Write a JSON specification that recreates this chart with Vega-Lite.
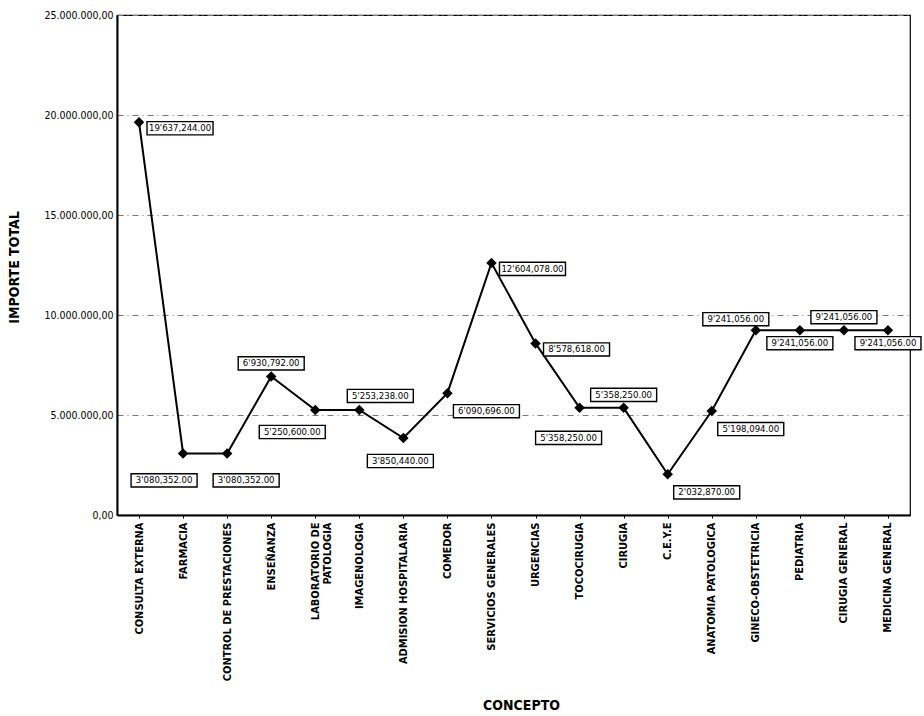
{
  "$schema": "https://vega.github.io/schema/vega-lite/v6.json",
  "autosize": "none",
  "width": 793,
  "height": 500,
  "padding": {"left": 117, "top": 15, "right": 14, "bottom": 201},
  "background": "white",
  "config": {
    "locale": {"number": {"decimal": ",", "thousands": ".", "grouping": [3], "currency": ["", ""]}},
    "view": {"stroke": "black", "strokeWidth": 1.2},
    "font": "DejaVu Sans Condensed, Liberation Sans, sans-serif"
  },
  "data": {
    "values": [
      {"concepto": "CONSULTA EXTERNA", "importe": 19637244, "etiqueta": "19'637,244.00"},
      {"concepto": "FARMACIA", "importe": 3080352, "etiqueta": "3'080,352.00"},
      {"concepto": "CONTROL DE PRESTACIONES", "importe": 3080352, "etiqueta": "3'080,352.00"},
      {"concepto": "ENSEÑANZA", "importe": 6930792, "etiqueta": "6'930,792.00"},
      {"concepto": "LABORATORIO DE|PATOLOGIA", "importe": 5250600, "etiqueta": "5'250,600.00"},
      {"concepto": "IMAGENOLOGIA", "importe": 5253238, "etiqueta": "5'253,238.00"},
      {"concepto": "ADMISION HOSPITALARIA", "importe": 3850440, "etiqueta": "3'850,440.00"},
      {"concepto": "COMEDOR", "importe": 6090696, "etiqueta": "6'090,696.00"},
      {"concepto": "SERVICIOS GENERALES", "importe": 12604078, "etiqueta": "12'604,078.00"},
      {"concepto": "URGENCIAS", "importe": 8578618, "etiqueta": "8'578,618.00"},
      {"concepto": "TOCOCIRUGIA", "importe": 5358250, "etiqueta": "5'358,250.00"},
      {"concepto": "CIRUGIA", "importe": 5358250, "etiqueta": "5'358,250.00"},
      {"concepto": "C.E.Y.E", "importe": 2032870, "etiqueta": "2'032,870.00"},
      {"concepto": "ANATOMIA PATOLOGICA", "importe": 5198094, "etiqueta": "5'198,094.00"},
      {"concepto": "GINECO-OBSTETRICIA", "importe": 9241056, "etiqueta": "9'241,056.00"},
      {"concepto": "PEDIATRIA", "importe": 9241056, "etiqueta": "9'241,056.00"},
      {"concepto": "CIRUGIA GENERAL", "importe": 9241056, "etiqueta": "9'241,056.00"},
      {"concepto": "MEDICINA GENERAL", "importe": 9241056, "etiqueta": "9'241,056.00"}
    ]
  },
  "encoding": {
    "x": {
      "field": "concepto", "type": "nominal", "sort": null,
      "scale": {"type": "point", "padding": 0.5},
      "axis": {
        "title": "CONCEPTO", "titleFontSize": 14, "titleFontWeight": "bold",
        "titleX": 404, "titleY": 190, "titleBaseline": "middle", "titleAlign": "center", "titleColor": "black",
        "labelAngle": -90, "labelAlign": "right", "labelBaseline": "middle",
        "labelExpr": "split(datum.label, '|')",
        "labelFontSize": 11, "labelFontWeight": "bold", "labelColor": "black",
        "labelPadding": 4, "tickSize": 3, "tickColor": "black", "domainColor": "black", "domainWidth": 2,
        "labelOverlap": false, "labelLineHeight": 12, "labelBound": false
      }
    },
    "y": {
      "field": "importe", "type": "quantitative",
      "scale": {"domain": [0, 25000000], "nice": false},
      "axis": {
        "title": "IMPORTE TOTAL", "titleFontSize": 14, "titleFontWeight": "bold",
        "titleX": -103, "titleY": 252, "titleAngle": -90, "titleAlign": "center", "titleBaseline": "middle", "titleColor": "black",
        "values": [0, 5000000, 10000000, 15000000, 20000000, 25000000],
        "format": ",.2f",
        "labelFontSize": 10.5, "labelColor": "black",
        "labelPadding": 4, "ticks": false, "domainColor": "black", "domainWidth": 2,
        "grid": true, "gridColor": "#777", "gridDash": [6, 4, 1, 4], "gridWidth": 1
      }
    }
  },
  "layer": [
    {"mark": {"type": "line", "color": "black", "strokeWidth": 2}},
    {"mark": {"type": "point", "shape": "diamond", "filled": true, "color": "black", "size": 110, "opacity": 1}},
    {
      "transform": [{"filter": {"field": "concepto", "oneOf": ["CONSULTA EXTERNA", "SERVICIOS GENERALES", "URGENCIAS"]}}],
      "layer": [
        {"mark": {"type": "point", "shape": "M-1,-0.2L1,-0.2L1,0.2L-1,0.2Z", "size": 4356, "filled": true, "fill": "white", "stroke": "black", "strokeWidth": 1.4, "opacity": 1, "xOffset": 41, "yOffset": 6}},
        {"mark": {"type": "text", "fontSize": 9.5, "color": "black", "xOffset": 41, "yOffset": 6}, "encoding": {"text": {"field": "etiqueta"}}}
      ]
    },
    {
      "transform": [{"filter": {"field": "concepto", "oneOf": ["COMEDOR", "C.E.Y.E", "ANATOMIA PATOLOGICA"]}}],
      "layer": [
        {"mark": {"type": "point", "shape": "M-1,-0.2L1,-0.2L1,0.2L-1,0.2Z", "size": 4356, "filled": true, "fill": "white", "stroke": "black", "strokeWidth": 1.4, "opacity": 1, "xOffset": 39, "yOffset": 18}},
        {"mark": {"type": "text", "fontSize": 9.5, "color": "black", "xOffset": 39, "yOffset": 18}, "encoding": {"text": {"field": "etiqueta"}}}
      ]
    },
    {
      "transform": [{"filter": {"field": "concepto", "oneOf": ["ENSEÑANZA", "CIRUGIA", "CIRUGIA GENERAL"]}}],
      "layer": [
        {"mark": {"type": "point", "shape": "M-1,-0.2L1,-0.2L1,0.2L-1,0.2Z", "size": 4356, "filled": true, "fill": "white", "stroke": "black", "strokeWidth": 1.4, "opacity": 1, "xOffset": 0, "yOffset": -13}},
        {"mark": {"type": "text", "fontSize": 9.5, "color": "black", "xOffset": 0, "yOffset": -13}, "encoding": {"text": {"field": "etiqueta"}}}
      ]
    },
    {
      "transform": [{"filter": {"field": "concepto", "oneOf": ["IMAGENOLOGIA"]}}],
      "layer": [
        {"mark": {"type": "point", "shape": "M-1,-0.2L1,-0.2L1,0.2L-1,0.2Z", "size": 4356, "filled": true, "fill": "white", "stroke": "black", "strokeWidth": 1.4, "opacity": 1, "xOffset": 21, "yOffset": -14}},
        {"mark": {"type": "text", "fontSize": 9.5, "color": "black", "xOffset": 21, "yOffset": -14}, "encoding": {"text": {"field": "etiqueta"}}}
      ]
    },
    {
      "transform": [{"filter": {"field": "concepto", "oneOf": ["GINECO-OBSTETRICIA"]}}],
      "layer": [
        {"mark": {"type": "point", "shape": "M-1,-0.2L1,-0.2L1,0.2L-1,0.2Z", "size": 4356, "filled": true, "fill": "white", "stroke": "black", "strokeWidth": 1.4, "opacity": 1, "xOffset": -20, "yOffset": -11}},
        {"mark": {"type": "text", "fontSize": 9.5, "color": "black", "xOffset": -20, "yOffset": -11}, "encoding": {"text": {"field": "etiqueta"}}}
      ]
    },
    {
      "transform": [{"filter": {"field": "concepto", "oneOf": ["PEDIATRIA", "MEDICINA GENERAL"]}}],
      "layer": [
        {"mark": {"type": "point", "shape": "M-1,-0.2L1,-0.2L1,0.2L-1,0.2Z", "size": 4356, "filled": true, "fill": "white", "stroke": "black", "strokeWidth": 1.4, "opacity": 1, "xOffset": 0, "yOffset": 13}},
        {"mark": {"type": "text", "fontSize": 9.5, "color": "black", "xOffset": 0, "yOffset": 13}, "encoding": {"text": {"field": "etiqueta"}}}
      ]
    },
    {
      "transform": [{"filter": {"field": "concepto", "oneOf": ["ADMISION HOSPITALARIA"]}}],
      "layer": [
        {"mark": {"type": "point", "shape": "M-1,-0.2L1,-0.2L1,0.2L-1,0.2Z", "size": 4356, "filled": true, "fill": "white", "stroke": "black", "strokeWidth": 1.4, "opacity": 1, "xOffset": -3, "yOffset": 23}},
        {"mark": {"type": "text", "fontSize": 9.5, "color": "black", "xOffset": -3, "yOffset": 23}, "encoding": {"text": {"field": "etiqueta"}}}
      ]
    },
    {
      "transform": [{"filter": {"field": "concepto", "oneOf": ["LABORATORIO DE|PATOLOGIA"]}}],
      "layer": [
        {"mark": {"type": "point", "shape": "M-1,-0.2L1,-0.2L1,0.2L-1,0.2Z", "size": 4356, "filled": true, "fill": "white", "stroke": "black", "strokeWidth": 1.4, "opacity": 1, "xOffset": -23, "yOffset": 22}},
        {"mark": {"type": "text", "fontSize": 9.5, "color": "black", "xOffset": -23, "yOffset": 22}, "encoding": {"text": {"field": "etiqueta"}}}
      ]
    },
    {
      "transform": [{"filter": {"field": "concepto", "oneOf": ["TOCOCIRUGIA"]}}],
      "layer": [
        {"mark": {"type": "point", "shape": "M-1,-0.2L1,-0.2L1,0.2L-1,0.2Z", "size": 4356, "filled": true, "fill": "white", "stroke": "black", "strokeWidth": 1.4, "opacity": 1, "xOffset": -11, "yOffset": 30}},
        {"mark": {"type": "text", "fontSize": 9.5, "color": "black", "xOffset": -11, "yOffset": 30}, "encoding": {"text": {"field": "etiqueta"}}}
      ]
    },
    {
      "transform": [{"filter": {"field": "concepto", "oneOf": ["FARMACIA"]}}],
      "layer": [
        {"mark": {"type": "point", "shape": "M-1,-0.2L1,-0.2L1,0.2L-1,0.2Z", "size": 4356, "filled": true, "fill": "white", "stroke": "black", "strokeWidth": 1.4, "opacity": 1, "xOffset": -19, "yOffset": 27}},
        {"mark": {"type": "text", "fontSize": 9.5, "color": "black", "xOffset": -19, "yOffset": 27}, "encoding": {"text": {"field": "etiqueta"}}}
      ]
    },
    {
      "transform": [{"filter": {"field": "concepto", "oneOf": ["CONTROL DE PRESTACIONES"]}}],
      "layer": [
        {"mark": {"type": "point", "shape": "M-1,-0.2L1,-0.2L1,0.2L-1,0.2Z", "size": 4356, "filled": true, "fill": "white", "stroke": "black", "strokeWidth": 1.4, "opacity": 1, "xOffset": 19, "yOffset": 27}},
        {"mark": {"type": "text", "fontSize": 9.5, "color": "black", "xOffset": 19, "yOffset": 27}, "encoding": {"text": {"field": "etiqueta"}}}
      ]
    }
  ]
}
